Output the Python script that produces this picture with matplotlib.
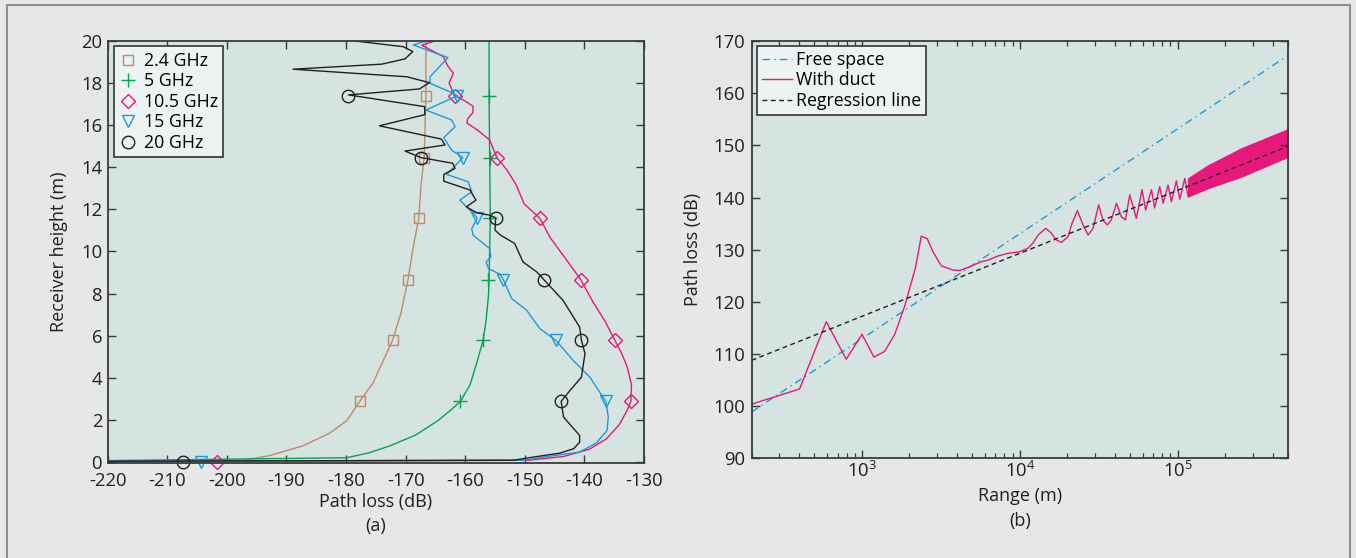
import matplotlib
matplotlib.use("Agg")
import matplotlib.pyplot as plt
import numpy as np
from matplotlib.patches import Rectangle
from matplotlib.ticker import LogLocator, NullFormatter

plt.rcParams['font.family'] = ['Open Sans', 'DejaVu Sans']
plt.rcParams['mathtext.fontset'] = 'custom'
plt.rcParams['mathtext.rm'] = 'Open Sans'
plt.rcParams['font.size'] = 13
plt.rcParams['axes.unicode_minus'] = False

# ---------------- panel (a): path loss vs receiver height ----------------
freq_labels = ["2.4 GHz", "5 GHz", "10.5 GHz", "15 GHz", "20 GHz"]

h_24 = [0.0, 0.08, 0.29, 0.77, 1.36, 1.96, 2.88, 3.74, 4.85, 5.78, 7.06, 8.66,
        10.1, 11.58, 13.2, 14.46, 16.3, 17.4, 20.0]
loss_24 = [-260, -197.3, -193.0, -187.2, -182.8, -179.9, -177.7, -175.5, -173.7,
           -172.2, -170.8, -169.6, -168.8, -167.8, -167.4, -166.9, -166.7, -166.6, -166.6]

h_5 = [0.03, 0.2, 0.43, 0.77, 1.28, 1.96, 2.47, 2.88, 3.66, 4.68, 5.78, 6.72, 7.9,
       8.66, 11.58, 14.46, 17.4, 20.0]
loss_5 = [-230, -179.9, -176.2, -172.6, -168.3, -164.6, -162.4, -160.8, -159.2,
          -158.1, -157.0, -156.5, -156.1, -156.0, -155.8, -155.9, -156.0, -156.0]

h_105 = [0.02, 0.08, 0.26, 0.6, 1.1, 1.79, 2.47, 2.88, 3.66, 4.5, 5.19, 5.78, 6.72,
         7.57, 8.66, 9.79, 10.64, 11.58, 12.26, 13.19, 13.87, 14.46, 15.3, 15.8,
         16.1, 16.3, 16.6, 16.9, 17.2, 17.4, 18.0, 18.47, 18.8, 19.26, 19.8, 20.0]
loss_105 = [-240, -149.4, -143.5, -139.2, -136.3, -134.1, -132.8, -132.2, -132.1,
            -132.8, -133.8, -134.9, -136.6, -138.5, -140.6, -143.5, -145.7, -147.5,
            -150.1, -151.5, -153.0, -154.7, -155.9, -158.1, -159.7, -159.6, -158.7,
            -158.7, -160.3, -161.8, -162.7, -162.0, -162.9, -163.7, -167.3, -165.1]

h_15 = [0.02, 0.08, 0.23, 0.47, 0.9, 1.5, 2.13, 2.88, 4.03, 4.83, 5.78, 6.34, 7.21,
        7.76, 8.66, 8.92, 9.19, 9.5, 9.74, 10.14, 10.78, 11.09, 11.58, 11.73, 12.44,
        12.84, 13.31, 13.66, 14.07, 14.46, 14.82, 15.41, 15.93, 16.25, 16.72, 17.4,
        17.59, 17.99, 18.3, 19.21, 19.81, 20.0]
loss_15 = [-240, -150.0, -146.9, -140.8, -138.0, -136.2, -136.0, -136.4, -139.1,
           -141.9, -144.8, -147.5, -149.7, -152.2, -153.6, -154.2, -156.1, -156.5,
           -155.7, -155.9, -158.7, -158.9, -158.0, -158.4, -160.9, -158.9, -159.5,
           -163.1, -161.7, -160.4, -162.3, -163.6, -161.7, -162.3, -166.6, -161.3,
           -162.6, -165.9, -165.9, -162.9, -168.7, -166.6]

h_20 = [0.02, 0.08, 0.23, 0.42, 0.63, 0.94, 1.26, 2.13, 2.88, 3.4, 4.03, 5.15, 5.78,
        6.41, 7.68, 8.66, 9.03, 9.5, 10.38, 10.78, 11.01, 11.6, 11.73, 11.84, 12.12,
        12.44, 12.92, 13.34, 13.66, 13.95, 14.19, 14.46, 14.77, 15.06, 15.34, 15.97,
        16.5, 16.88, 17.44, 17.72, 18.02, 18.3, 18.66, 18.9, 19.15, 19.5, 19.73, 20.0]
loss_20 = [-240, -152.0, -148.6, -144.1, -141.8, -140.8, -140.8, -143.5, -143.9,
           -142.4, -140.5, -139.9, -140.5, -140.8, -143.6, -146.8, -148.0, -150.3,
           -151.7, -154.1, -155.0, -154.9, -156.0, -158.1, -159.8, -158.2, -159.2,
           -163.6, -163.6, -161.7, -162.1, -167.4, -170.1, -163.4, -164.0, -174.4,
           -166.8, -166.8, -179.6, -167.7, -166.0, -169.8, -188.9, -174.0, -170.1,
           -168.8, -170.4, -178.5]

# marker positions (every 2.9 m); nan = off the chart
mark_h = [0.0, 2.88, 5.78, 8.66, 11.58, 14.46, 17.4]
mark_24 = [np.nan, -177.7, -172.2, -169.6, -167.8, -166.9, -166.6]
mark_5 = [np.nan, -160.8, -157.0, -156.1, -155.9, -155.9, -156.0]
mark_105 = [-201.6, -132.2, -134.9, -140.6, -147.5, -154.7, -161.8]
mark_15 = [-204.3, -136.4, -144.8, -153.6, -158.0, -160.4, -161.3]
mark_20 = [-207.4, -143.9, -140.5, -146.8, -154.9, -167.4, -179.6]

# ---------------- panel (b): path loss vs range ----------------
fs_range = [200, 5e5]
fs_loss = [98.9, 167.2]
reg_range = [200, 5e5]
reg_loss = [108.8, 149.8]

duct_range = [200, 402, 594, 795, 1000, 1191, 1391, 1610, 1862, 2177, 2377, 2594,
              2818, 3184, 3777, 4159, 4699, 5711, 6299, 7283, 8433, 10000, 11300,
              12150, 13060, 14620, 15850, 16980, 18360, 20230, 21480, 23190, 25180,
              27100, 29170, 31620, 33650, 35890, 38020, 41020, 44060, 46770, 49770,
              52240, 54830, 59600, 62800, 68390, 71610, 77090, 81100, 87100, 91410,
              98400, 103300, 111200, 116700]
duct_loss = [100.4, 103.3, 116.2, 109.0, 113.8, 109.4, 110.5, 113.7, 119.1, 126.4,
             132.6, 132.1, 129.6, 126.9, 126.1, 126.0, 126.6, 127.7, 128.0, 128.8,
             129.3, 129.6, 130.3, 131.3, 132.8, 134.1, 133.2, 131.9, 131.4, 132.5,
             135.1, 137.5, 134.75, 132.8, 134.1, 138.6, 135.7, 134.75, 135.7, 138.9,
             136.3, 135.7, 140.5, 138.3, 136.0, 141.5, 137.6, 141.5, 138.0, 142.1,
             138.9, 142.4, 139.2, 143.2, 139.7, 143.65, 140.2]
# dense oscillation band beyond ~1.2e5 m (upper / lower envelope)
band_range = [116700, 156300, 254100, 5e5]
band_upper = [143.7, 146.2, 149.45, 153.1]
band_lower = [140.2, 141.8, 144.0, 147.8]

# ---------------- styling ----------------
c_brown = '#BE8A6C'
c_green = '#00A550'
c_pink = '#E8177B'
c_blue = '#1C9AD6'
c_black = '#231F20'
ax_bg = '#D5E4E0'
fig_bg = '#E6E7E8'
leg_bg = '#EDF3F2'
txt = '#231F20'

fig = plt.figure(figsize=(13.56, 5.58), dpi=100, facecolor=fig_bg)
W, H = 1356.0, 558.0
ax1 = fig.add_axes([107.7 / W, 1 - 463 / H, 536.3 / W, 422 / H], facecolor=ax_bg)
ax2 = fig.add_axes([751.7 / W, 1 - 458.4 / H, 536.1 / W, 417.4 / H], facecolor=ax_bg)

fig.patches.append(Rectangle((6.5 / W, -0.1), (1350 - 6.5) / W, 1.1 - 5.5 / H,
                             transform=fig.transFigure, fill=False,
                             edgecolor='#8E8E8E', lw=1.5))

# panel (a)
lines_a = [(loss_24, h_24, mark_24, c_brown, 's', 7),
           (loss_5, h_5, mark_5, c_green, '+', 10),
           (loss_105, h_105, mark_105, c_pink, 'D', 7),
           (loss_15, h_15, mark_15, c_blue, 'v', 9),
           (loss_20, h_20, mark_20, c_black, 'o', 9)]
handles = []
for (lx, ly, mx, col, mk, ms), lab in zip(lines_a, freq_labels):
    ax1.plot(lx, ly, color=col, lw=1.0)
    hnd, = ax1.plot(mx, mark_h, ls='none', marker=mk, ms=ms, mfc='none', mec=col,
                    mew=1.0, clip_on=False, label=lab)
    handles.append(hnd)

ax1.set_xlim(-220, -130)
ax1.set_ylim(-0.05, 20)
ax1.set_xticks(np.arange(-220, -129, 10))
ax1.set_yticks(np.arange(0, 21, 2))
ax1.set_xlabel('Path loss (dB)', color=txt)
ax1.set_ylabel('Receiver height (m)', color=txt)
ax1.xaxis.label.set_va('center')
ax1.yaxis.label.set_va('center')
ax1.xaxis.set_label_coords(0.5, -(502 - 463) / 422)
ax1.yaxis.set_label_coords(-(107.7 - 59.4) / 536.3, 0.5)
ax1.text(0.5, -(526 - 463) / 422, '(a)', transform=ax1.transAxes,
         ha='center', va='center', color=txt)
leg1 = ax1.legend(handles=handles, loc='upper left', bbox_to_anchor=(0.011, 0.987),
                  borderaxespad=0, fontsize=12.8, labelspacing=0.14, handlelength=1.0,
                  handletextpad=0.4, borderpad=0.3, fancybox=False, framealpha=1,
                  facecolor=leg_bg, edgecolor='#333333')
leg1.get_frame().set_linewidth(1.2)

# panel (b)
ax2.plot(fs_range, fs_loss, color=c_blue, lw=1.0, dashes=(5.5, 3, 1, 3),
         label='Free space')
ax2.plot(duct_range, duct_loss, color=c_pink, lw=1.0, label='With duct')
ax2.fill_between(band_range, band_lower, band_upper, color=c_pink, lw=0.8,
                 edgecolor=c_pink)
ax2.plot(reg_range, reg_loss, color=c_black, lw=1.0, dashes=(3.5, 2.5),
         label='Regression line')
ax2.set_xscale('log')
ax2.set_xlim(200, 5e5)
ax2.set_ylim(90, 170)
ax2.set_yticks(np.arange(90, 171, 10))
ax2.xaxis.set_major_locator(LogLocator(base=10, subs=(1.0,)))
ax2.xaxis.set_minor_locator(LogLocator(base=10, subs=np.arange(2, 10)))
ax2.xaxis.set_minor_formatter(NullFormatter())
ax2.set_xlabel('Range (m)', color=txt)
ax2.set_ylabel('Path loss (dB)', color=txt)
ax2.xaxis.label.set_va('center')
ax2.yaxis.label.set_va('center')
ax2.xaxis.set_label_coords(0.5, -(496.4 - 458.4) / 417.4)
ax2.yaxis.set_label_coords(-(751.7 - 693) / 536.1, 0.5)
ax2.text(0.5, -(521 - 458.4) / 417.4, '(b)', transform=ax2.transAxes,
         ha='center', va='center', color=txt)
leg2 = ax2.legend(loc='upper left', bbox_to_anchor=(0.0093, 0.989), borderaxespad=0,
                  fontsize=12.8, labelspacing=0.14, handlelength=1.7,
                  handletextpad=0.2, borderpad=0.3, fancybox=False, framealpha=1,
                  facecolor=leg_bg, edgecolor='#333333')
leg2.get_frame().set_linewidth(1.2)

for ax in (ax1, ax2):
    for s in ax.spines.values():
        s.set_linewidth(1.3)
        s.set_color('#3A3A3A')
    ax.tick_params(which='both', direction='in', top=True, right=True,
                   colors='#3A3A3A', labelcolor=txt, labelsize=13.3)
    ax.tick_params(which='major', length=6, width=1.0)
    ax.tick_params(which='minor', length=3.5, width=0.9)
ax1.tick_params(axis='x', pad=6.5)
ax1.tick_params(axis='y', pad=4)
ax2.tick_params(axis='x', which='major', pad=2)
ax2.tick_params(axis='y', pad=5)

fig.savefig('out.png', dpi=100, facecolor=fig_bg)
